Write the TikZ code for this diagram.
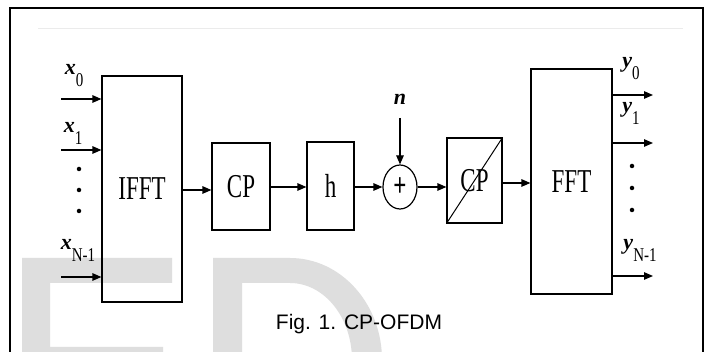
\documentclass[tikz,border=0pt]{standalone}
\usepackage{fontspec}
\setmainfont{Liberation Serif}
\newfontfamily\capfont{Liberation Sans}
\usetikzlibrary{arrows.meta,shapes.geometric}
\newcommand\stretchtxt[1]{\scalebox{1}[1.45]{#1}}
\newcommand\lab[2]{\textbf{\textit{#1}}\raisebox{-12pt}{\scalebox{1}[1.3]{\fontsize{15}{15}\selectfont #2}}}
\begin{document}
\begin{tikzpicture}[x=1pt,y=-1pt,
  blk/.style={draw, line width=1.2pt, inner sep=0pt, font=\fontsize{23}{23}\selectfont},
  arr/.style={line width=1.2pt, -{Triangle[length=9pt,width=7.5pt]}},
  lbl/.style={inner sep=0pt, font=\fontsize{22}{22}\selectfont},
  dotm/.style={circle, fill, inner sep=0pt, minimum size=4.5pt},
  wm/.style={fill=black!13}]
\useasboundingbox (0,0) rectangle (710,352);
\fill[white] (0,0) rectangle (710,352);
% watermark letters
\fill[wm] (22,258) -- (172,258) -- (172,283) -- (50,283) -- (50,347) -- (163,347) -- (163,362) -- (22,362) -- cycle;
\fill[wm, even odd rule]
  (213,362) -- (213,258) -- (290,258) arc[start angle=-90, end angle=0, x radius=92, y radius=102] -- (213,360) -- cycle
  (242,362) -- (242,283) -- (290,283) arc[start angle=-90, end angle=0, x radius=62, y radius=77] -- (242,360) -- cycle;
% frame
\draw[line width=2pt] (10,362) -- (10,8) -- (703,8) -- (703,362);
\draw[black!8, line width=0.8pt] (38,28) -- (683,28);
% blocks
\node[blk, minimum width=80pt, minimum height=226pt] (ifft) at (142,189) {\stretchtxt{IFFT}};
\node[blk, minimum width=58pt, minimum height=87pt] (cp1) at (241,186.5) {\stretchtxt{CP}};
\node[blk, minimum width=47pt, minimum height=88pt] (h) at (330.5,186) {\stretchtxt{h}};
\node[blk, ellipse, minimum width=34pt, minimum height=44pt] (add) at (400,187) {\stretchtxt{\textbf{+}}};
\node[blk, minimum width=55pt, minimum height=85pt] (cp2) at (474.5,180.5) {\stretchtxt{CP}};
\draw[line width=1pt] (cp2.south west) -- (cp2.north east);
\node[blk, minimum width=81pt, minimum height=225pt] (fft) at (571.5,181.5) {\stretchtxt{FFT}};
% chain arrows
\draw[arr] (ifft.east |- 0,190) -- (cp1.west |- 0,190);
\draw[arr] (cp1.east |- 0,187) -- (h.west |- 0,187);
\draw[arr] (h.east |- add.west) -- (add.west);
\draw[arr] (add.east) -- (cp2.west |- add.east);
\draw[arr] (cp2.east |- 0,183) -- (fft.west |- 0,183);
% noise
\node[lbl] (n) at (400,99) {\textbf{\textit{n}}};
\coordinate (nt) at (400,118);
\draw[arr] (nt) -- (add.north);
% inputs
\coordinate (xi0) at (61,99);
\coordinate (xi1) at (61,150);
\coordinate (xiN) at (61,277);
\draw[arr] (xi0) -- (ifft.west |- xi0);
\draw[arr] (xi1) -- (ifft.west |- xi1);
\draw[arr] (xiN) -- (ifft.west |- xiN);
\node[lbl] (lx0) at (74,75.5) {\lab{x}{0}};
\node[lbl] (lx1) at (73,133.5) {\lab{x}{1}};
\node[lbl] (lxN) at (78,250) {\lab{x}{N-1}};
\node[dotm] (dx1) at (79,169) {};
\node[dotm] (dx2) at (79,190) {};
\node[dotm] (dx3) at (79,211) {};
% outputs
\coordinate (yo0) at (653,95);
\coordinate (yo1) at (653,143);
\coordinate (yoN) at (653,276);
\draw[arr] (fft.east |- yo0) -- (yo0);
\draw[arr] (fft.east |- yo1) -- (yo1);
\draw[arr] (fft.east |- yoN) -- (yoN);
\node[lbl] (ly0) at (631,69) {\lab{y}{0}};
\node[lbl] (ly1) at (631,113.5) {\lab{y}{1}};
\node[lbl] (lyN) at (640,250) {\lab{y}{N-1}};
\node[dotm] (dy1) at (632,166) {};
\node[dotm] (dy2) at (632,188) {};
\node[dotm] (dy3) at (632,210) {};
% caption
\node[font=\capfont\fontsize{21}{21}\selectfont] (cap) at (359,324) {Fig. 1. CP-OFDM};
\end{tikzpicture}
\end{document}
